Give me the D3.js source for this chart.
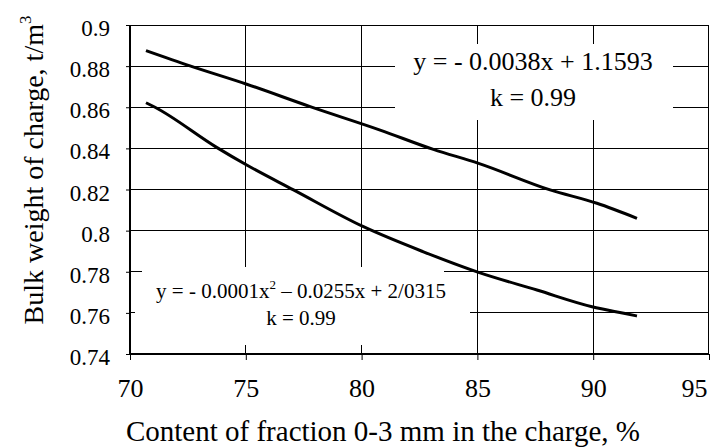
<!DOCTYPE html>
<html>
<head>
<meta charset="utf-8">
<script src="https://cdn.jsdelivr.net/npm/d3@7"></script>
<style>
  body { margin: 0; background: #fff; }
  svg text { font-family: "Liberation Serif", "Times New Roman", serif; fill: #000; }
</style>
</head>
<body>
<script>
// values
var xTicks = [70, 75, 80, 85, 90, 95];
var yTicks = [0.74, 0.76, 0.78, 0.8, 0.82, 0.84, 0.86, 0.88, 0.9];

var upperX = [70.69, 72.59, 75.04, 77.78, 80.80, 83.10, 85.05, 88.14, 90.16, 91.89];
var upperY = [0.8875, 0.8801, 0.8712, 0.8603, 0.8489, 0.8395, 0.8327, 0.8198, 0.8133, 0.8060];

var lowerX = [70.69, 71.08, 73.74, 75.04, 77.06, 80.08, 82.67, 85.05, 87.57, 89.95, 91.32, 91.89];
var lowerY = [0.8622, 0.8600, 0.8405, 0.8319, 0.8198, 0.8019, 0.7897, 0.7797, 0.7711, 0.7630, 0.7598, 0.7585];

var upperEq = "y = - 0.0038x + 1.1593";
var lowerEq = ["y = - 0.0001x", "2", " \u2013 0.0255x + 2/0315"];
var kText = "k = 0.99";

var width = 710, height = 447;
var margin = {top: 25, right: 1, bottom: 93, left: 130};
var serif = '"Liberation Serif", "Times New Roman", serif';

var x = d3.scaleLinear().domain([70, 95]).range([margin.left, width - margin.right]);
var y = d3.scaleLinear().domain([0.74, 0.9]).range([height - margin.bottom, margin.top]);

var svg = d3.select('body').append('svg')
  .attr('width', width)
  .attr('height', height);

// grid
var grid = svg.append('g').attr('class', 'grid')
  .attr('stroke', '#000').attr('stroke-width', 1).attr('shape-rendering', 'crispEdges');

grid.selectAll('line.h')
  .data(yTicks.slice(1, -1))
  .enter().append('line')
  .attr('class', 'h')
  .attr('x1', x(70)).attr('x2', x(95))
  .attr('y1', function(d) { return y(d); })
  .attr('y2', function(d) { return y(d); });

grid.selectAll('line.v')
  .data(xTicks.slice(1, -1))
  .enter().append('line')
  .attr('class', 'v')
  .attr('y1', y(0.74)).attr('y2', y(0.9))
  .attr('x1', function(d) { return x(d); })
  .attr('x2', function(d) { return x(d); });

// white label boxes hide the grid under the equations
svg.append('rect').attr('x', 395).attr('y', 44).attr('width', 278).attr('height', 76).attr('fill', '#fff');
svg.append('rect').attr('x', 142).attr('y', 267).attr('width', 302).attr('height', 34).attr('fill', '#fff');
svg.append('rect').attr('x', 135).attr('y', 300).attr('width', 335).attr('height', 45).attr('fill', '#fff');

// frame top / right
svg.append('line').attr('x1', x(70)).attr('x2', x(95)).attr('y1', y(0.9)).attr('y2', y(0.9))
  .attr('stroke', '#000').attr('stroke-width', 1).attr('shape-rendering', 'crispEdges');
svg.append('line').attr('x1', x(95) - 0.5).attr('x2', x(95) - 0.5).attr('y1', y(0.9)).attr('y2', y(0.74))
  .attr('stroke', '#000').attr('stroke-width', 1);

// axes
var xAxis = d3.axisBottom(x).tickValues(xTicks).tickSize(6).tickFormat(d3.format('d'));
var gx = svg.append('g')
  .attr('transform', 'translate(0,' + y(0.74) + ')')
  .call(xAxis)
  .style('font-family', serif)
  .style('font-size', '26px');
gx.select('.domain').attr('stroke-width', 2).attr('d', 'M' + x(70) + ',0H' + x(95));
gx.selectAll('.tick text').attr('y', 43).attr('dy', 0);
gx.selectAll('.tick text').filter(function(d) { return d === 95; })
  .attr('text-anchor', 'end').attr('x', -2);

var yAxis = d3.axisLeft(y).tickValues(yTicks).tickSize(4).tickPadding(16)
  .tickFormat(function(d) { return String(+d.toFixed(2)); });
var gy = svg.append('g')
  .attr('transform', 'translate(' + x(70) + ',0)')
  .call(yAxis)
  .style('font-family', serif)
  .style('font-size', '23px');
gy.select('.domain').attr('stroke-width', 2).attr('d', 'M0,' + y(0.74) + 'V' + y(0.9));
gy.selectAll('.tick text').attr('dy', '0.46em');

// curves
var line = d3.line()
  .x(function(d) { return x(d[0]); })
  .y(function(d) { return y(d[1]); })
  .curve(d3.curveMonotoneX);

svg.append('path')
  .datum(d3.zip(upperX, upperY))
  .attr('d', line)
  .attr('fill', 'none').attr('stroke', '#000').attr('stroke-width', 3);

svg.append('path')
  .datum(d3.zip(lowerX, lowerY))
  .attr('d', line)
  .attr('fill', 'none').attr('stroke', '#000').attr('stroke-width', 3);

// equations
svg.append('text').attr('x', 533).attr('y', 70).attr('text-anchor', 'middle')
  .style('font-size', '26px').text(upperEq);
svg.append('text').attr('x', 533).attr('y', 106).attr('text-anchor', 'middle')
  .style('font-size', '26px').text(kText);

var eq2 = svg.append('text').attr('x', 301).attr('y', 298).attr('text-anchor', 'middle')
  .style('font-size', '21px');
eq2.append('tspan').text(lowerEq[0]);
eq2.append('tspan').style('font-size', '13px').attr('dy', -9).text(lowerEq[1]);
eq2.append('tspan').attr('dy', 9).text(lowerEq[2]);
svg.append('text').attr('x', 301).attr('y', 325).attr('text-anchor', 'middle')
  .style('font-size', '21px').text(kText);

// axis titles
svg.append('text')
  .attr('x', 383).attr('y', 441).attr('text-anchor', 'middle')
  .style('font-size', '29px')
  .text('Content of fraction 0-3 mm in the charge, %');

var yt = svg.append('text')
  .attr('transform', 'translate(43,170) rotate(-90)')
  .attr('text-anchor', 'middle')
  .style('font-size', '28px');
yt.append('tspan').text('Bulk weight of charge,  t/m');
yt.append('tspan').style('font-size', '17px').attr('dy', -12).text('3');
</script>
</body>
</html>
